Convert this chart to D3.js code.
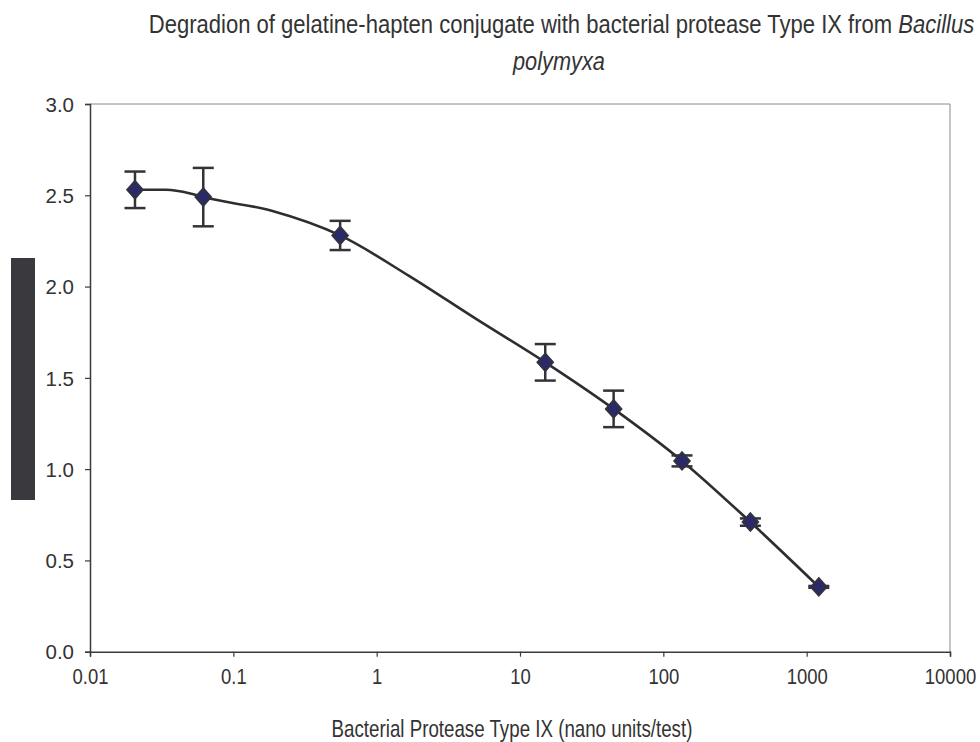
<!DOCTYPE html>
<html><head><meta charset="utf-8">
<script src="https://cdn.jsdelivr.net/npm/d3@7"></script>
<style>body{margin:0;background:#fff}svg{display:block}</style>
</head><body>
<svg id="c" width="980" height="742"></svg>
<script>
// ---- data ----
const xTickValues = [0.01, 0.1, 1, 10, 100, 1000, 10000];
const xTickLabels = ["0.01", "0.1", "1", "10", "100", "1000", "10000"];
const yTickValues = [0, 0.5, 1.0, 1.5, 2.0, 2.5, 3.0];
const yTickLabels = ["0.0", "0.5", "1.0", "1.5", "2.0", "2.5", "3.0"];
const concentration = [0.0206, 0.0617, 0.556, 15, 45, 135, 405, 1215];
const absorbance = [2.53, 2.49, 2.28, 1.585, 1.33, 1.045, 0.71, 0.355];
const errorSD = [0.10, 0.16, 0.08, 0.10, 0.10, 0.03, 0.02, 0.005];
const curveX = [0.0206, 0.034, 0.05, 0.0617, 0.185, 0.556, 1.67, 5, 15, 45, 135, 405, 1215];
const curveY = [2.53, 2.53, 2.51, 2.49, 2.415, 2.28, 2.06, 1.82, 1.585, 1.33, 1.045, 0.71, 0.355];
const titleLine1 = "Degradion of gelatine-hapten conjugate with bacterial protease Type IX from ";
const titleItalic1 = "Bacillus";
const titleLine2 = "polymyxa";
const xAxisTitle = "Bacterial Protease Type IX (nano units/test)";

// ---- layout ----
const svg = d3.select("#c");
const L = 90, R = 950, T = 104, B = 651.7;
const FONT = "'Liberation Sans', Arial, sans-serif";
const x = d3.scaleLog().domain([0.01, 10000]).range([L, R]);
const y = d3.scaleLinear().domain([0, 3]).range([B, T]);

// fit a centred text horizontally into a given width
function fit(sel, cx, cy, width) {
  const w = sel.node().getComputedTextLength();
  sel.attr("x", 0).attr("y", 0).attr("text-anchor", "middle")
     .attr("transform", `translate(${cx},${cy}) scale(${width / w},1)`);
}

// redaction block (left)
svg.append("rect").attr("x", 11).attr("y", 258).attr("width", 24).attr("height", 242).attr("fill", "#3a3a3e");

// frame (top & right)
svg.append("line").attr("x1", L).attr("x2", R).attr("y1", T).attr("y2", T).attr("stroke", "#8a8a8a").attr("stroke-width", 1);
svg.append("line").attr("x1", R).attr("x2", R).attr("y1", T).attr("y2", B).attr("stroke", "#8a8a8a").attr("stroke-width", 1);

// axes
const xAxis = d3.axisBottom(x).tickValues(xTickValues).tickFormat((d, i) => xTickLabels[i]).tickSizeOuter(0).tickSize(5).tickPadding(12);
const gx = svg.append("g").attr("transform", `translate(0,${B})`).call(xAxis);
const yAxis = d3.axisLeft(y).tickValues(yTickValues).tickFormat((d, i) => yTickLabels[i]).tickSizeOuter(0).tickSize(5).tickPadding(11);
const gy = svg.append("g").attr("transform", `translate(${L},0)`).call(yAxis);
[gx, gy].forEach(g => {
  g.select(".domain").attr("stroke", "#3a3a3a").attr("stroke-width", 1.5);
  g.selectAll(".tick line").attr("stroke", "#3a3a3a").attr("stroke-width", 1.2);
  g.selectAll(".tick text").attr("fill", "#333").style("font-family", FONT);
});
gx.selectAll(".tick text").style("font-size", "22px").attr("dy", "0.71em").attr("transform", "scale(0.84,1)");
gy.selectAll(".tick text").style("font-size", "20.5px").attr("dy", "0.35em");

// curve
const lineGen = d3.line().x(d => x(d[0])).y(d => y(d[1])).curve(d3.curveMonotoneX);
svg.append("path").datum(curveX.map((v, i) => [v, curveY[i]]))
  .attr("d", lineGen).attr("fill", "none").attr("stroke", "#2e2e32").attr("stroke-width", 2.6).attr("stroke-linejoin", "round");

// error bars
const pts = concentration.map((c, i) => ({c, a: absorbance[i], e: errorSD[i]}));
const eb = svg.append("g").attr("stroke", "#333338").attr("stroke-width", 2.5);
pts.forEach(p => {
  const cx = x(p.c);
  eb.append("line").attr("x1", cx).attr("x2", cx).attr("y1", y(p.a + p.e)).attr("y2", y(p.a - p.e));
  eb.append("line").attr("x1", cx - 10.5).attr("x2", cx + 10.5).attr("y1", y(p.a + p.e)).attr("y2", y(p.a + p.e));
  eb.append("line").attr("x1", cx - 10.5).attr("x2", cx + 10.5).attr("y1", y(p.a - p.e)).attr("y2", y(p.a - p.e));
});

// diamonds
svg.append("g").selectAll("path").data(pts).join("path")
  .attr("d", p => { const cx = x(p.c), cy = y(p.a); return `M${cx},${cy-9}L${cx+8},${cy}L${cx},${cy+9}L${cx-8},${cy}Z`; })
  .attr("fill", "#2a2a68").attr("stroke", "#333338").attr("stroke-width", 1.6);

// title
const t1 = svg.append("text").style("font-family", FONT).style("font-size", "25px").attr("fill", "#333");
t1.append("tspan").text(titleLine1);
t1.append("tspan").style("font-style", "italic").text(titleItalic1);
fit(t1, 561.5, 33, 826);
const t2 = svg.append("text").style("font-family", FONT).style("font-size", "25px").style("font-style", "italic").attr("fill", "#333").text(titleLine2);
fit(t2, 559, 70, 92);

// x axis title
const xt = svg.append("text").style("font-family", FONT).style("font-size", "24px").attr("fill", "#333").text(xAxisTitle);
fit(xt, 512, 737, 361);
</script>
</body></html>
